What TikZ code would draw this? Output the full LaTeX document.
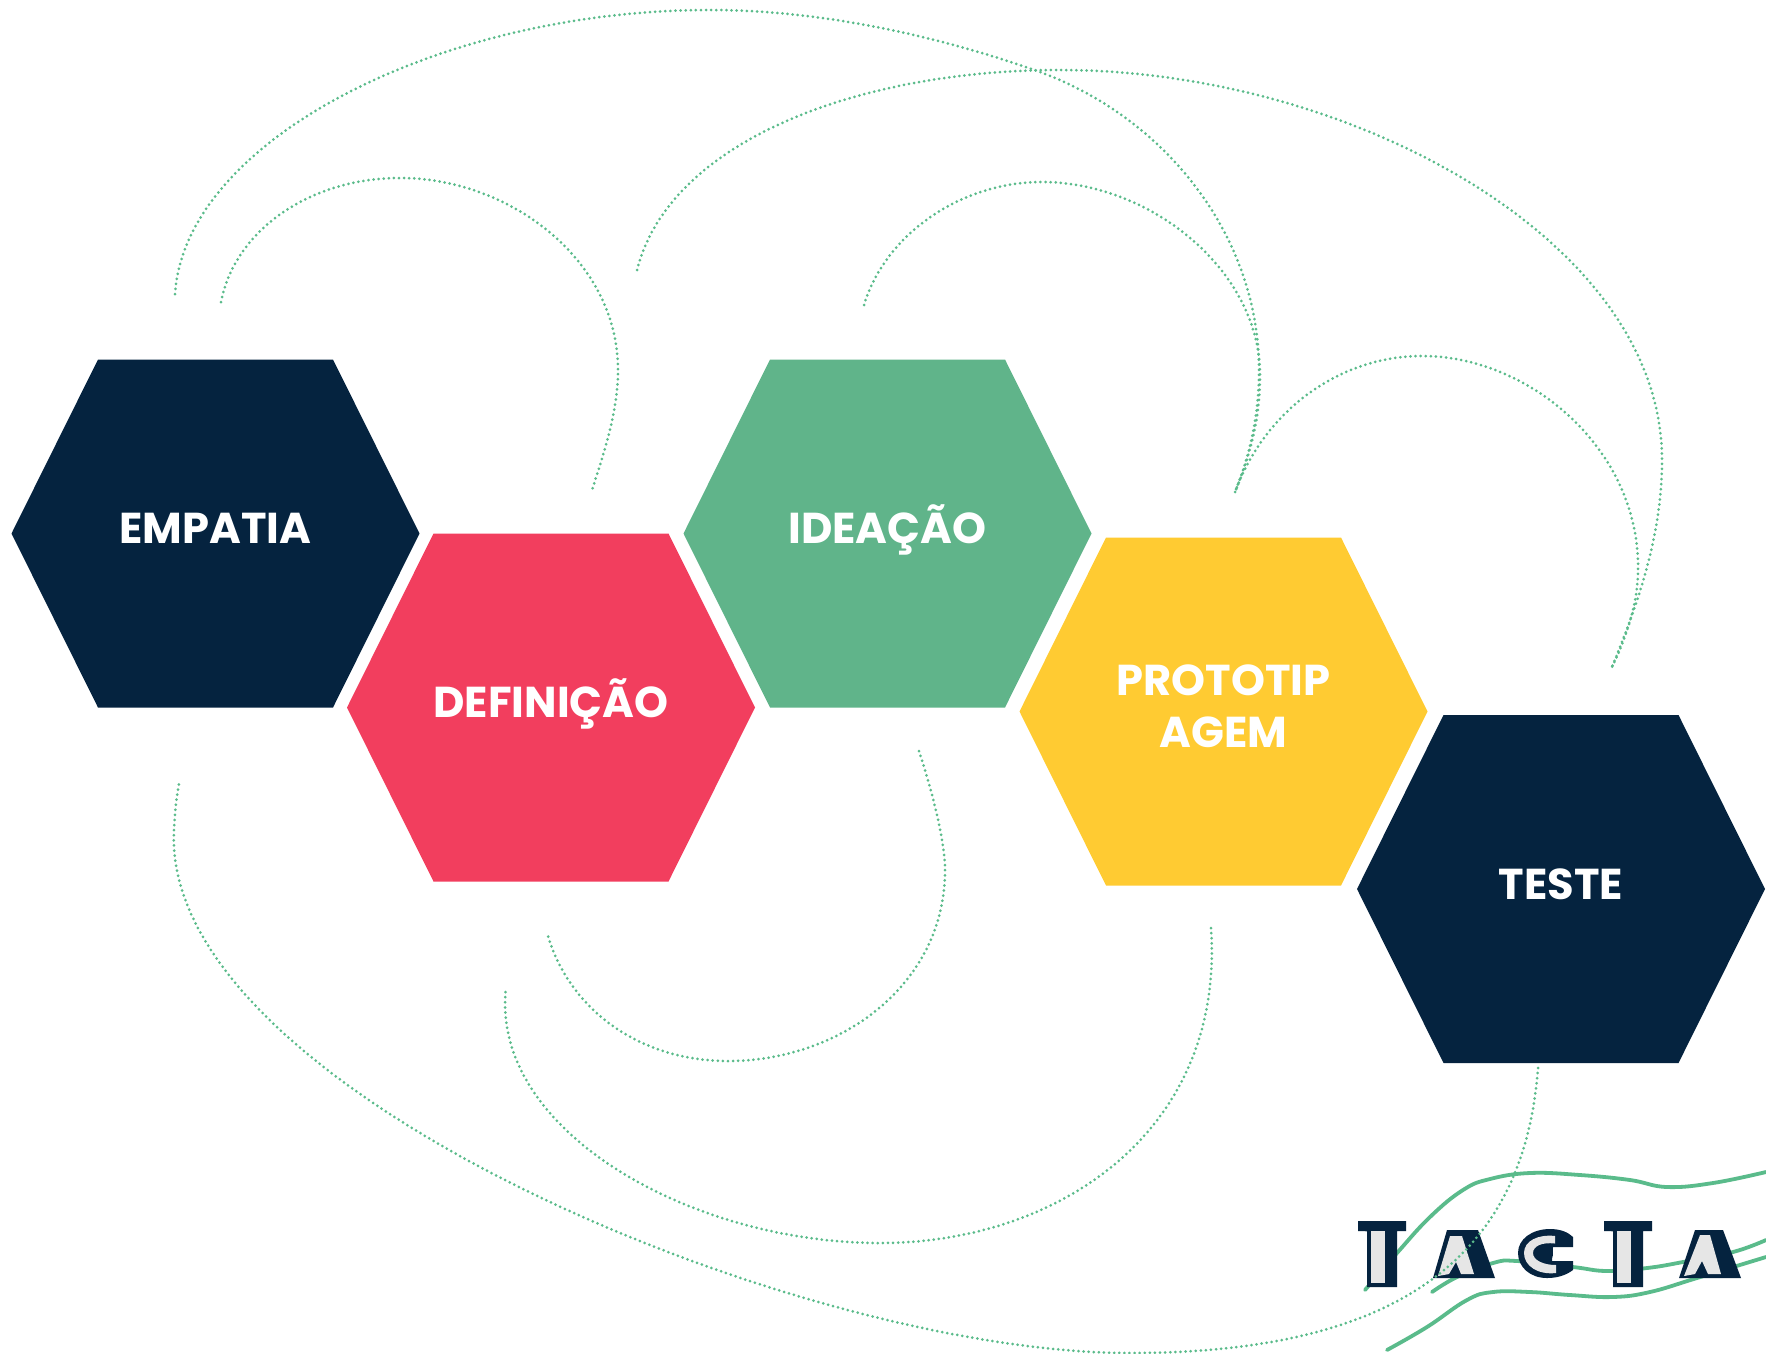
\documentclass[tikz,border=0pt]{standalone}
\usepackage{fontspec}
\setmainfont{Poppins}[BoldFont={Poppins Bold}]
\definecolor{navy}{HTML}{05233F}
\definecolor{rose}{HTML}{F23E5E}
\definecolor{sage}{HTML}{60B48A}
\definecolor{amber}{HTML}{FFCB32}
\definecolor{wave}{HTML}{5ABB8B}
\definecolor{logogray}{HTML}{E6E6E6}
\tikzset{
  x=1pt,y=-1pt,
  dotline/.style={wave,line width=3pt,line cap=round,dash pattern=on 0pt off 5.1pt},
  waveline/.style={wave,line width=3.8pt,line cap=round},
  hexlabel/.style={text=white,font=\bfseries\fontsize{43.2}{52}\selectfont,align=center},
  logoletter/.style={text=navy,font=\bfseries\fontsize{58}{58}\selectfont,inner sep=0pt,anchor=base},
  logoface/.style={fill=logogray},
  logodark/.style={fill=navy},
}
\newcommand{\hexat}[3]{\fill[#1] (#2-204,#3) -- (#2-117.5,#3-174) -- (#2+117.5,#3-174) -- (#2+204,#3) -- (#2+117.5,#3+174) -- (#2-117.5,#3+174) -- cycle;}
\begin{document}
\begin{tikzpicture}
\useasboundingbox (0,0) rectangle (1766,1353);
\fill[white] (0,0) rectangle (1766,1353);
% waves
\draw[waveline] plot[smooth,tension=0.7] coordinates {(1365,1290) (1397,1253) (1430,1217) (1463,1190) (1490,1179) (1530,1173) (1580,1175) (1630,1180) (1667,1187) (1713,1183) (1766,1172)};
\draw[waveline] plot[smooth,tension=0.7] coordinates {(1432,1292) (1457,1277) (1493,1263) (1517,1261) (1573,1267) (1607,1271) (1647,1268) (1683,1262) (1733,1252) (1766,1240)};
\draw[waveline] plot[smooth,tension=0.7] coordinates {(1387,1350) (1427,1327) (1467,1300) (1493,1292) (1530,1292) (1570,1295) (1613,1297) (1650,1292) (1697,1278) (1766,1257)};
% hexagons
\hexat{navy}{215.5}{533.5}
\hexat{rose}{551}{707.5}
\hexat{sage}{887.5}{533.5}
\hexat{amber}{1223.5}{711.5}
\hexat{navy}{1561}{889}
\node[hexlabel] (emp) at (215.5,528) {EMPATIA};
\node[hexlabel] (def) at (551,704) {DEFINIÇÃO};
\node[hexlabel] (ide) at (887.5,530) {IDEAÇÃO};
\node[hexlabel] (pro) at (1223.5,706) {PROTOTIP\\AGEM};
\node[hexlabel] (tes) at (1561,884) {TESTE};
% logo: first T
\fill[logodark] (1358,1221) -- (1406,1221) -- (1406,1231) -- (1397,1231) -- (1397,1287) -- (1367,1287) -- (1367,1231) -- (1358,1231) -- cycle;
\node[logoletter] (l1) at (1382,1264) {T};
\fill[logoface] (1371,1231) rectangle (1385,1283);
% logo: first A
\fill[logodark] (1433,1278) -- (1447,1230) -- (1478,1230) -- (1495,1278) -- cycle;
\node[logoletter] (l2) at (1464,1276) {A};
\fill[logoface] (1450,1236) -- (1462,1236) -- (1474,1274) -- (1461,1274) -- (1456,1262) -- (1449,1274) -- (1438,1276) -- cycle;
% logo: G
\node[logoletter] (l3) at (1546,1272) {G};
\fill[white] (1553,1246) rectangle (1578,1262);
\fill[logodark] (1573,1247) -- (1553,1247) -- (1552,1261) -- (1573,1261) -- (1573,1270) .. controls (1565,1276) and (1556,1278) .. (1547,1278) .. controls (1530,1278) and (1518,1267) .. (1518,1253) .. controls (1518,1239) and (1532,1229) .. (1550,1229) .. controls (1560,1229) and (1568,1232) .. (1573,1237) -- cycle;
\fill[logoface] (1555,1236) -- (1555,1243.5) .. controls (1542,1242) and (1533,1246) .. (1533,1253) .. controls (1533,1260) and (1543,1265) .. (1556,1265) -- (1556,1273) .. controls (1538,1275) and (1524,1266) .. (1524,1253) .. controls (1524,1241) and (1538,1234) .. (1555,1236) -- cycle;
% logo: second T
\fill[logodark] (1604,1221) -- (1652,1221) -- (1652,1231) -- (1643,1231) -- (1643,1287) -- (1613,1287) -- (1613,1231) -- (1604,1231) -- cycle;
\node[logoletter] (l4) at (1628,1264) {T};
\fill[logoface] (1617,1231) rectangle (1631,1283);
% logo: second A
\fill[logodark] (1679,1278) -- (1695,1230) -- (1723,1230) -- (1741,1278) -- cycle;
\node[logoletter] (l5) at (1710,1276) {A};
\fill[logoface] (1700,1235) -- (1710,1235) -- (1721,1274) -- (1708,1274) -- (1702,1261) -- (1695,1274) -- (1684,1276) -- cycle;
% dotted
\coordinate (a1) at (175,294); \coordinate (a2) at (1235,492);
\coordinate (b1) at (221,302); \coordinate (b2) at (592,490);
\coordinate (c1) at (637,270); \coordinate (c2) at (1612,667);
\coordinate (d1) at (864,305);
\coordinate (f1) at (919,751); \coordinate (f2) at (548,936);
\coordinate (g1) at (1211,928); \coordinate (g2) at (506,988);
\coordinate (h1) at (1538,1068); \coordinate (h2) at (179,784);
\draw[dotline] (a1) .. controls (185,140) and (440,10) .. (710,10) .. controls (830,10) and (950,40) .. (1040,72) .. controls (1170,120) and (1259,240) .. (1259,370) .. controls (1259,415) and (1250,455) .. (a2);
\draw[dotline] (b1) .. controls (235,230) and (310,178) .. (400,178) .. controls (510,178) and (618,260) .. (618,370) .. controls (618,410) and (605,450) .. (b2);
\draw[dotline] (c1) .. controls (670,140) and (860,70) .. (1060,70) .. controls (1350,70) and (1662,240) .. (1662,460) .. controls (1662,540) and (1635,610) .. (c2);
\draw[dotline] (d1) .. controls (885,235) and (960,182) .. (1042,182) .. controls (1150,182) and (1260,270) .. (1260,375) .. controls (1260,420) and (1250,455) .. (a2);
\draw[dotline] (a2) .. controls (1265,410) and (1340,356) .. (1422,356) .. controls (1530,356) and (1640,450) .. (1638,570) .. controls (1638,605) and (1625,640) .. (c2);
\draw[dotline] (f1) .. controls (935,800) and (945,845) .. (945,870) .. controls (945,985) and (840,1061) .. (728,1061) .. controls (640,1061) and (570,1010) .. (f2);
\draw[dotline] (g1) .. controls (1225,1130) and (1060,1243) .. (880,1243) .. controls (690,1243) and (490,1130) .. (g2);
\draw[dotline] (h1) .. controls (1525,1240) and (1420,1353) .. (1130,1353) .. controls (800,1353) and (160,1090) .. (174,830) .. controls (175,810) and (176,800) .. (h2);
\end{tikzpicture}
\end{document}
